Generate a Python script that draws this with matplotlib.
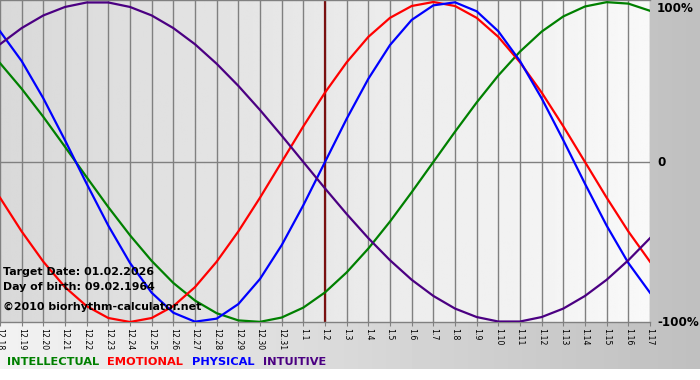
import matplotlib
matplotlib.use('Agg')
import matplotlib.pyplot as plt
import numpy as np

# days around the target date (0 = 1.2)
days = list(range(-15, 16))
day_labels = ['12.18', '12.19', '12.20', '12.21', '12.22', '12.23', '12.24', '12.25',
              '12.26', '12.27', '12.28', '12.29', '12.30', '12.31',
              '1.1', '1.2', '1.3', '1.4', '1.5', '1.6', '1.7', '1.8', '1.9', '1.10',
              '1.11', '1.12', '1.13', '1.14', '1.15', '1.16', '1.17']

intellectual = [0.618, 0.458, 0.282, 0.095, -0.095, -0.282, -0.458, -0.618, -0.756, -0.866,
                -0.945, -0.990, -0.999, -0.972, -0.910, -0.815, -0.690, -0.541, -0.372, -0.189,
                0.0, 0.189, 0.372, 0.541, 0.690, 0.815, 0.910, 0.972, 0.999, 0.990, 0.945]
emotional = [-0.223, -0.434, -0.623, -0.782, -0.901, -0.975, -1.0, -0.975, -0.901, -0.782,
             -0.623, -0.434, -0.223, 0.0, 0.223, 0.434, 0.623, 0.782, 0.901, 0.975,
             1.0, 0.975, 0.901, 0.782, 0.623, 0.434, 0.223, 0.0, -0.223, -0.434, -0.623]
physical = [0.817, 0.631, 0.398, 0.136, -0.136, -0.398, -0.631, -0.817, -0.942, -0.998,
            -0.979, -0.888, -0.731, -0.520, -0.270, 0.0, 0.270, 0.520, 0.731, 0.888,
            0.979, 0.998, 0.942, 0.817, 0.631, 0.398, 0.136, -0.136, -0.398, -0.631, -0.817]
intuitive = [0.736, 0.837, 0.916, 0.969, 0.997, 0.997, 0.969, 0.916, 0.837, 0.736,
             0.614, 0.476, 0.325, 0.165, 0.0, -0.165, -0.325, -0.476, -0.614, -0.736,
             -0.837, -0.916, -0.969, -0.997, -0.997, -0.969, -0.916, -0.837, -0.736, -0.614, -0.476]

series = [('INTELLECTUAL', intellectual, '#008000'),
          ('EMOTIONAL', emotional, '#ff0000'),
          ('PHYSICAL', physical, '#0000ff'),
          ('INTUITIVE', intuitive, '#4b0082')]

W, H = 700, 380
fig = plt.figure(figsize=(7, 3.8), dpi=100)

# outer gray gradient background, white strip at the very bottom
bg = fig.add_axes([0, 0, 1, 1], zorder=-10)
bg.axis('off')
outer = np.tile(np.linspace(0.95, 0.75, 350), (H, 1))
outer[369:, :] = 1.0
bg.imshow(outer, cmap='gray', vmin=0, vmax=1, aspect='auto', extent=(0, 1, 0, 1))
bg.set_xlim(0, 1)
bg.set_ylim(0, 1)

ax = fig.add_axes([0, 58 / H, 650 / W, 322 / H])
inner = np.tile(np.linspace(0.85, 0.975, 256), (2, 1))
ax.imshow(inner, cmap='gray', vmin=0, vmax=1, aspect='auto',
          extent=(-15, 15, -1, 1.0125), zorder=0)
ax.set_xlim(-15, 15)
ax.set_ylim(-1, 1.0125)

ax.set_xticks(days)
ax.set_xticklabels(day_labels)
ax.set_yticks([])
ax.grid(axis='x', color='#808080', lw=1, zorder=1)
ax.axhline(0, color='#808080', lw=1, zorder=1)
ax.tick_params(axis='x', length=3, color='#808080', pad=1, labelsize=5.6,
               labelrotation=-90)
for lbl in ax.get_xticklabels():
    lbl.set_verticalalignment('top')
for s in ['left', 'right']:
    ax.spines[s].set_visible(False)
for s in ['top', 'bottom']:
    ax.spines[s].set_color('#808080')
    ax.spines[s].set_linewidth(1)

ax.axvline(0, color='#7a1010', lw=1.6, zorder=2)

for name, vals, col in series:
    ax.plot(days, vals, color=col, lw=1.6, zorder=3)

# info text
ax.text(3 / 650, 1 - 272 / 322, 'Target Date: 01.02.2026', transform=ax.transAxes,
        fontsize=7.9, fontweight='bold', va='center', ha='left', zorder=5)
ax.text(3 / 650, 1 - 287 / 322, 'Day of birth: 09.02.1964', transform=ax.transAxes,
        fontsize=7.9, fontweight='bold', va='center', ha='left', zorder=5)
ax.text(3 / 650, 1 - 307 / 322, '\u00a92010 biorhythm-calculator.net', transform=ax.transAxes,
        fontsize=7.9, fontweight='bold', va='center', ha='left', zorder=5)

# right side scale labels
fig.text(657 / W, 1 - 8 / H, '100%', fontsize=8.6, fontweight='bold', va='center', ha='left')
fig.text(657 / W, 1 - 162 / H, '0', fontsize=8.6, fontweight='bold', va='center', ha='left')
fig.text(657 / W, 1 - 322 / H, '-100%', fontsize=8.6, fontweight='bold', va='center', ha='left')

# legend row
legend_x = [7, 107, 192, 263]
for (name, vals, col), lx in zip(series, legend_x):
    fig.text(lx / W, 1 - 362 / H, name, color=col, fontsize=8.2, fontweight='bold',
             va='center', ha='left')

fig.savefig('out.png', dpi=100)
